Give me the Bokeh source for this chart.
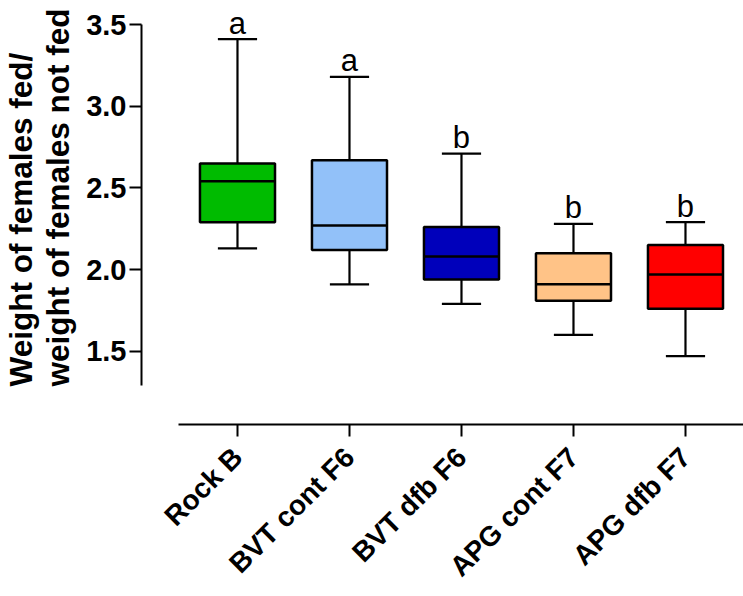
import math
from bokeh.plotting import figure
from bokeh.models import FixedTicker, NumeralTickFormatter, Range1d, ColumnDataSource, Title
from bokeh.core.properties import value
from bokeh.embed import file_html
from bokeh.resources import INLINE

# ---- data ----
categories = ["Rock B", "BVT cont F6", "BVT dfb F6", "APG cont F7", "APG dfb F7"]
positions = [1, 2, 3, 4, 5]
maxs = [3.41, 3.18, 2.71, 2.28, 2.29]
q3 = [2.65, 2.67, 2.26, 2.10, 2.15]
medians = [2.54, 2.27, 2.08, 1.91, 1.97]
q1 = [2.29, 2.12, 1.94, 1.81, 1.76]
mins = [2.13, 1.91, 1.79, 1.60, 1.47]
letters = ["a", "a", "b", "b", "b"]
colors = ["#00BB00", "#92C1F9", "#0000BB", "#FFC387", "#FF0000"]
y_ticks = [1.5, 2.0, 2.5, 3.0, 3.5]
y_title = "Weight of females fed/\nweight of females not fed"

BOX_W = 0.67
CAP_W = 0.35

src = ColumnDataSource(dict(
    x=positions, maxs=maxs, q3=q3, med=medians, q1=q1, mins=mins,
    letter=letters, color=colors,
    cap_l=[x - CAP_W / 2 for x in positions],
    cap_r=[x + CAP_W / 2 for x in positions],
    box_l=[x - BOX_W / 2 for x in positions],
    box_r=[x + BOX_W / 2 for x in positions],
))

X0, X1 = 0.143, 5.518
Y0, Y1 = 1.052, 3.647
p = figure(width=743, height=596, output_backend="svg", toolbar_location=None,
           x_range=Range1d(X0, X1), y_range=Range1d(Y0, Y1),
           min_border_left=141, min_border_right=0, min_border_top=0,
           min_border_bottom=172)
p.outline_line_color = None
p.xgrid.visible = False
p.ygrid.visible = False
p.background_fill_color = "white"

FONT = "Liberation Sans"

# whiskers
p.segment(x0="x", y0="q3", x1="x", y1="maxs", source=src, line_color="black", line_width=2.2)
p.segment(x0="x", y0="q1", x1="x", y1="mins", source=src, line_color="black", line_width=2.2)
# caps
p.segment(x0="cap_l", y0="maxs", x1="cap_r", y1="maxs", source=src, line_color="black", line_width=2.2)
p.segment(x0="cap_l", y0="mins", x1="cap_r", y1="mins", source=src, line_color="black", line_width=2.2)
# boxes
p.vbar(x="x", width=BOX_W, bottom="q1", top="q3", source=src, fill_color="color",
       line_color="black", line_width=2.5)
# medians
p.segment(x0="box_l", y0="med", x1="box_r", y1="med", source=src, line_color="black", line_width=2.5)

# significance letters
p.text(x="x", y="maxs", text="letter", source=src, text_align="center",
       text_baseline="alphabetic", y_offset=-16, text_font=value(FONT),
       text_font_size="31px", text_color="black")

# y axis
ya = p.yaxis[0]
ya.ticker = FixedTicker(ticks=y_ticks)
ya.formatter = NumeralTickFormatter(format="0.0")
ya.bounds = (1.29, 3.5)
ya.axis_line_width = 2
ya.axis_line_color = "black"
ya.major_tick_line_width = 2
ya.major_tick_out = 12
ya.major_tick_in = 0
ya.minor_tick_line_color = None
ya.major_label_standoff = 3
ya.major_label_text_font = FONT
ya.major_label_text_font_style = "bold"
ya.major_label_text_font_size = "29px"
ya.major_label_text_color = "black"
# invisible spacer label: small gap between tick labels and the title
ya.axis_label = "\u00a0"
ya.axis_label_text_font_size = "1px"
ya.axis_label_standoff = 3

# two-line y-axis title
p.add_layout(Title(text=y_title, align="left", offset=38, standoff=0,
                   vertical_align="bottom",
                   text_font=FONT, text_font_style="bold", text_font_size="31.5px",
                   text_line_height=1.05, text_color="black"), "left")

# x axis
xa = p.xaxis[0]
xa.ticker = FixedTicker(ticks=positions)
xa.major_label_overrides = {pos: cat for pos, cat in zip(positions, categories)}
xa.bounds = (0.473, X1)
xa.axis_line_width = 2
xa.axis_line_color = "black"
xa.major_tick_line_width = 2
xa.major_tick_out = 12
xa.major_tick_in = 0
xa.minor_tick_line_color = None
xa.major_label_orientation = math.pi / 4
xa.major_label_standoff = 16
xa.major_label_text_font = FONT
xa.major_label_text_font_style = "bold"
xa.major_label_text_font_size = "28px"
xa.major_label_text_line_height = 1.0
xa.major_label_text_color = "black"

open("out.html", "w").write(file_html(p, INLINE))
